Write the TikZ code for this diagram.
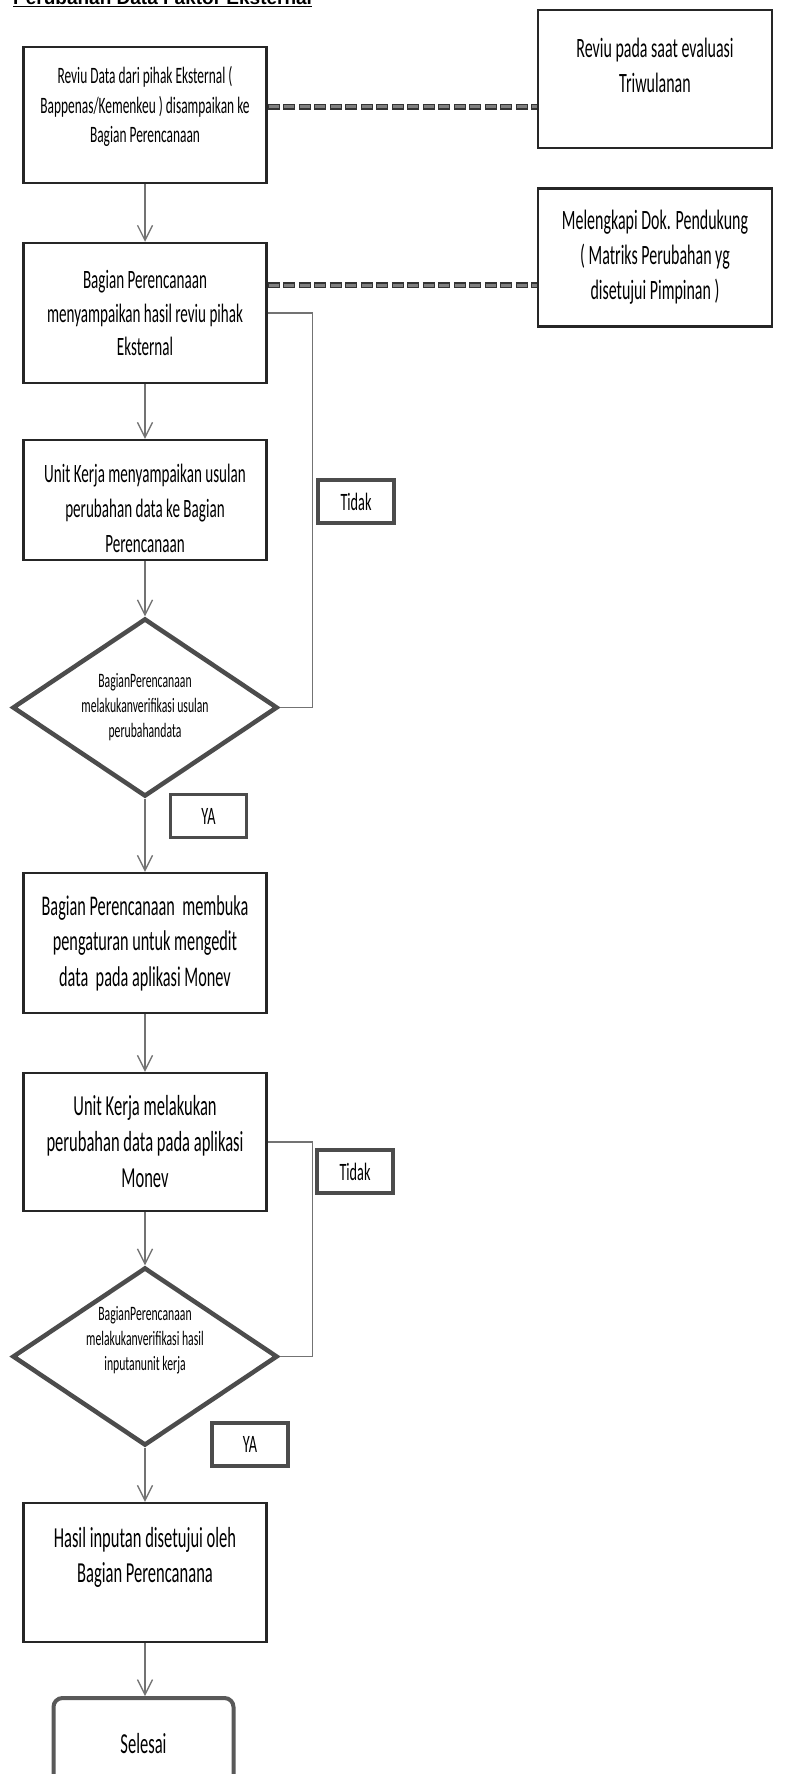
\documentclass[tikz,border=0pt]{standalone}
\usepackage{fontspec}
\setmainfont[FakeStretch=0.57]{Carlito}
\newfontfamily\titlefont{Liberation Sans}
\usepackage{tikz}
\tikzstyle{block} = [rectangle, minimum width=243pt, text centered, align=center, draw=black!85, line width=2.5pt]
\tikzstyle{block_2} = [block, minimum width=234pt, minimum height=138pt, font=\fontsize{28}{35}\selectfont]
\tikzstyle{decision} = [diamond, aspect=1.49, minimum width=265pt, minimum height=178pt, inner sep=0pt, align=center, draw=black!70, line width=4.5pt, font=\fontsize{20.5}{25}\selectfont]
\tikzstyle{tag} = [rectangle, minimum width=76pt, minimum height=43pt, draw=black!70, line width=3.5pt, font=\fontsize{25}{30}\selectfont]
\tikzstyle{stop} = [rectangle, rounded corners=9pt, minimum width=180pt, minimum height=92pt, draw=black!65, line width=4pt, font=\fontsize{29}{35}\selectfont]
\tikzstyle{arrow} = [draw=black!55, line width=1.3pt, ->, >={Straight Barb[length=15pt,width=15pt]}]
\tikzstyle{loopline} = [draw=black!55, line width=1.3pt]
\tikzstyle{link} = [draw=black!80, line width=5.5pt, dash pattern=on 12pt off 3.5pt, postaction={draw=black!50, line width=3pt, dash pattern=on 10pt off 5.5pt, dash phase=14.5pt}]
\usetikzlibrary{shapes.geometric,arrows.meta}

\begin{document}
\begin{tikzpicture}[x=1pt, y=1pt, node distance=198pt]
    \useasboundingbox [fill=white] (0,0) rectangle (796,-1774);
    \node (title) [anchor=base west, inner sep=0pt, font=\titlefont\bfseries\fontsize{19}{23}\selectfont] at (13,-5) {\underline{Perubahan Data Faktor Eksternal}};
    \node (review) [block, minimum height=136pt, font=\fontsize{23.5}{29.5}\selectfont] at (145,-115) {Reviu Data dari pihak Eksternal (\\Bappenas/Kemenkeu ) disampaikan ke\\Bagian Perencanaan\rule[-21pt]{0pt}{21pt}};
    \node (deliver) [block, node distance=198pt, below of=review, minimum height=140pt, font=\fontsize{26.5}{33.5}\selectfont] {Bagian Perencanaan\\menyampaikan hasil reviu pihak\\Eksternal};
    \node (propose) [block, node distance=187pt, below of=deliver, minimum height=120pt, font=\fontsize{26.5}{35}\selectfont] {\rule{0pt}{35pt}Unit Kerja menyampaikan usulan\\perubahan data ke Bagian\\Perencanaan};
    \node (verify1) [decision, node distance=207.5pt, below of=propose] {BagianPerencanaan\\melakukanverifikasi usulan\\perubahandata};
    \node (open) [block, node distance=235.5pt, below of=verify1, minimum height=140pt, font=\fontsize{28.5}{35.5}\selectfont] {Bagian Perencanaan~ membuka\\pengaturan untuk mengedit\\data~ pada aplikasi Monev};
    \node (edit) [block, node distance=199pt, below of=open, minimum height=138pt, font=\fontsize{29}{36}\selectfont] {Unit Kerja melakukan\\perubahan data pada aplikasi\\Monev};
    \node (verify2) [decision, node distance=214.5pt, below of=edit, inner ysep=-17pt] {BagianPerencanaan\\melakukanverifikasi hasil\\inputanunit kerja\rule[-36pt]{0pt}{36pt}};
    \node (approve) [block, node distance=216pt, below of=verify2, minimum height=139pt, font=\fontsize{29}{35}\selectfont] {Hasil inputan disetujui oleh\\Bagian Perencanana\rule[-36pt]{0pt}{36pt}};
    \node (finish) [stop, node distance=171.5pt, below of=approve, xshift=-1.5pt] {Selesai};
    \node (quarterly) [block_2, node distance=510pt, right of=review, yshift=36pt] {Reviu pada saat evaluasi\\Triwulanan\rule[-28pt]{0pt}{28pt}};
    \node (document) [block_2, node distance=510pt, right of=deliver, yshift=55.5pt] {Melengkapi Dok. Pendukung\\( Matriks Perubahan yg\\disetujui Pimpinan )};
    \node (no1) [tag, node distance=211pt, right of=propose, yshift=-1.5pt] {Tidak};
    \node (yes1) [tag, node distance=108.5pt, below of=verify1, xshift=63.5pt] {YA};
    \node (no2) [tag, node distance=210pt, right of=edit, yshift=-29.5pt] {Tidak};
    \node (yes2) [tag, node distance=88pt, below of=verify2, xshift=105pt] {YA};
    \draw [arrow] (review.south) -- (deliver.north);
    \draw [arrow] (deliver.south) -- (propose.north);
    \draw [arrow] (propose.south) -- (verify1.north);
    \draw [arrow] (verify1.south) -- (open.north);
    \draw [arrow] (open.south) -- (edit.north);
    \draw [arrow] (edit.south) -- (verify2.north);
    \draw [arrow] (verify2.south) -- (approve.north);
    \draw [arrow] (approve.south) -- (approve.south |- finish.north);
    \draw [loopline] (verify1.east) -- ++(33pt,0) |- (deliver.east);
    \draw [loopline] (verify2.east) -- ++(33pt,0) |- (edit.east);
    \draw [link] ([yshift=8pt]review.east) -- ([yshift=8pt]review.east -| quarterly.west);
    \draw [link] ([yshift=28pt]deliver.east) -- ([yshift=28pt]deliver.east -| document.west);
\end{tikzpicture}
\end{document}
